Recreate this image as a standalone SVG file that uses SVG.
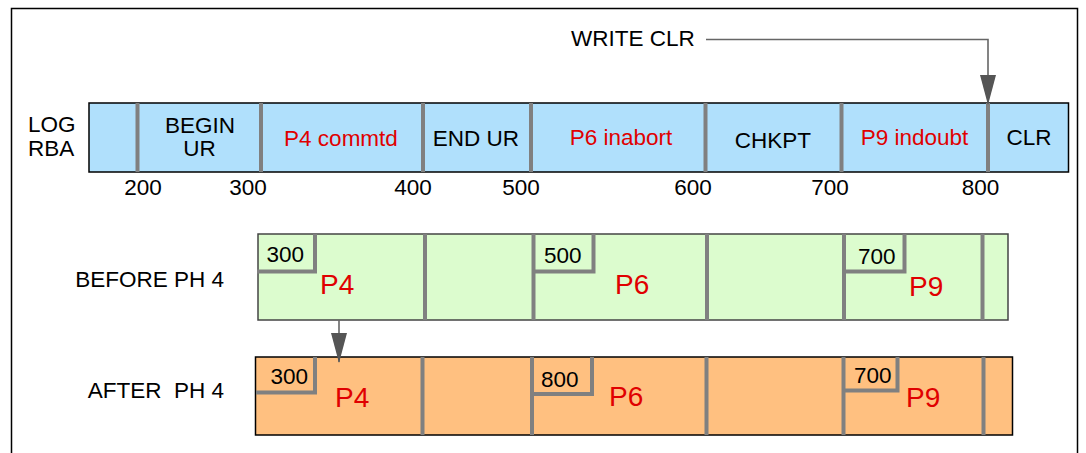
<svg xmlns="http://www.w3.org/2000/svg" width="1086" height="453" viewBox="0 0 1086 453">
<defs>
<style>
text{font-family:"Liberation Sans",Arial,sans-serif;font-size:22.5px;fill:#000}
.red{fill:#e00000}
.big{font-size:28px}
.c{text-anchor:middle}
.e{text-anchor:end}
.div{stroke:#808080;stroke-width:4;fill:none}
.tab{stroke:#808080;stroke-width:4;fill:none;stroke-linejoin:miter}
.conn{stroke:#666;stroke-width:1.6;fill:none}
</style>
<marker id="ah" markerWidth="30" markerHeight="16" refX="29" refY="8" orient="auto" markerUnits="userSpaceOnUse" viewBox="0 0 30 16">
<path d="M0,0 L30,8 L0,16 Z" fill="#555"/>
</marker>
</defs>
<rect x="0" y="0" width="1086" height="453" fill="#fff"/>
<path d="M11.5,460 V8.5 H1077.5 V460" fill="none" stroke="#000" stroke-width="1.5"/>

<g id="log-labels">
<text x="28" y="131.5">LOG</text>
<text x="28" y="156">RBA</text>
</g>

<g id="log-bar">
<rect x="89" y="103" width="979.5" height="69" fill="#b0e0fc" stroke="#000" stroke-width="1.5"/>
<path class="div" d="M137.5,103V172 M261,103V172 M423,103V172 M531,103V172 M705.5,103V172 M841.5,103V172 M988,103V172"/>
<text class="c" x="200" y="132.5">BEGIN</text>
<text class="c" x="199.5" y="156">UR</text>
<text class="c red" x="341" y="145.5">P4 commtd</text>
<text class="c" x="476" y="145.5">END UR</text>
<text class="c red" x="621" y="145">P6 inabort</text>
<text class="c" x="773" y="147.5">CHKPT</text>
<text class="c red" x="914.5" y="145">P9 indoubt</text>
<text class="c" x="1029" y="145">CLR</text>
</g>

<g id="rba-scale">
<text class="c" x="143" y="195">200</text>
<text class="c" x="248" y="195">300</text>
<text class="c" x="413" y="195">400</text>
<text class="c" x="521" y="195">500</text>
<text class="c" x="693" y="195">600</text>
<text class="c" x="830" y="195">700</text>
<text class="c" x="980.5" y="195">800</text>
</g>

<g id="write-clr">
<text x="571" y="46">WRITE CLR</text>
</g>

<g id="before-label"><text class="e" x="224" y="286.5">BEFORE PH 4</text></g>
<g id="after-label"><text class="e" x="224" y="397.5" xml:space="preserve">AFTER  PH 4</text></g>

<g id="before-bar">
<rect x="258" y="234" width="750" height="86" fill="#dcfcce" stroke="#444" stroke-width="1.5"/>
<path class="div" d="M425,234V320 M533.5,234V320 M707,234V320 M844,234V320 M982.5,234V320"/>
<path class="tab" d="M257,271.5 H315 V234"/>
<path class="tab" d="M533.5,271.5 H593.5 V234"/>
<path class="tab" d="M844,271.5 H904.5 V234"/>
<text x="266.5" y="262">300</text>
<text x="544" y="263">500</text>
<text x="858" y="264">700</text>
<text class="red big" x="320" y="294">P4</text>
<text class="red big" x="615" y="293.5">P6</text>
<text class="red big" x="909" y="296">P9</text>
</g>

<g id="after-bar">
<rect x="255.5" y="357" width="757" height="78" fill="#ffc080" stroke="#000" stroke-width="1.5"/>
<path class="div" d="M422.5,357V435 M532,357V435 M706.5,357V435 M843.5,357V435 M983.5,357V435"/>
<path class="tab" d="M256,392.5 H315 V357"/>
<path class="tab" d="M530,394 H592 V357"/>
<path class="tab" d="M843.5,390.5 H897.5 V357"/>
<text x="270.5" y="383.5">300</text>
<text x="541" y="386.5">800</text>
<text x="854" y="382.5">700</text>
<text class="red big" x="335" y="406.5">P4</text>
<text class="red big" x="609" y="405.5">P6</text>
<text class="red big" x="906" y="406.5">P9</text>
</g>

<g id="connectors">
<path class="conn" d="M706,39.5 H988 V104" marker-end="url(#ah)"/>
<path class="conn" d="M339,320 V362" marker-end="url(#ah)"/>
</g>
</svg>
